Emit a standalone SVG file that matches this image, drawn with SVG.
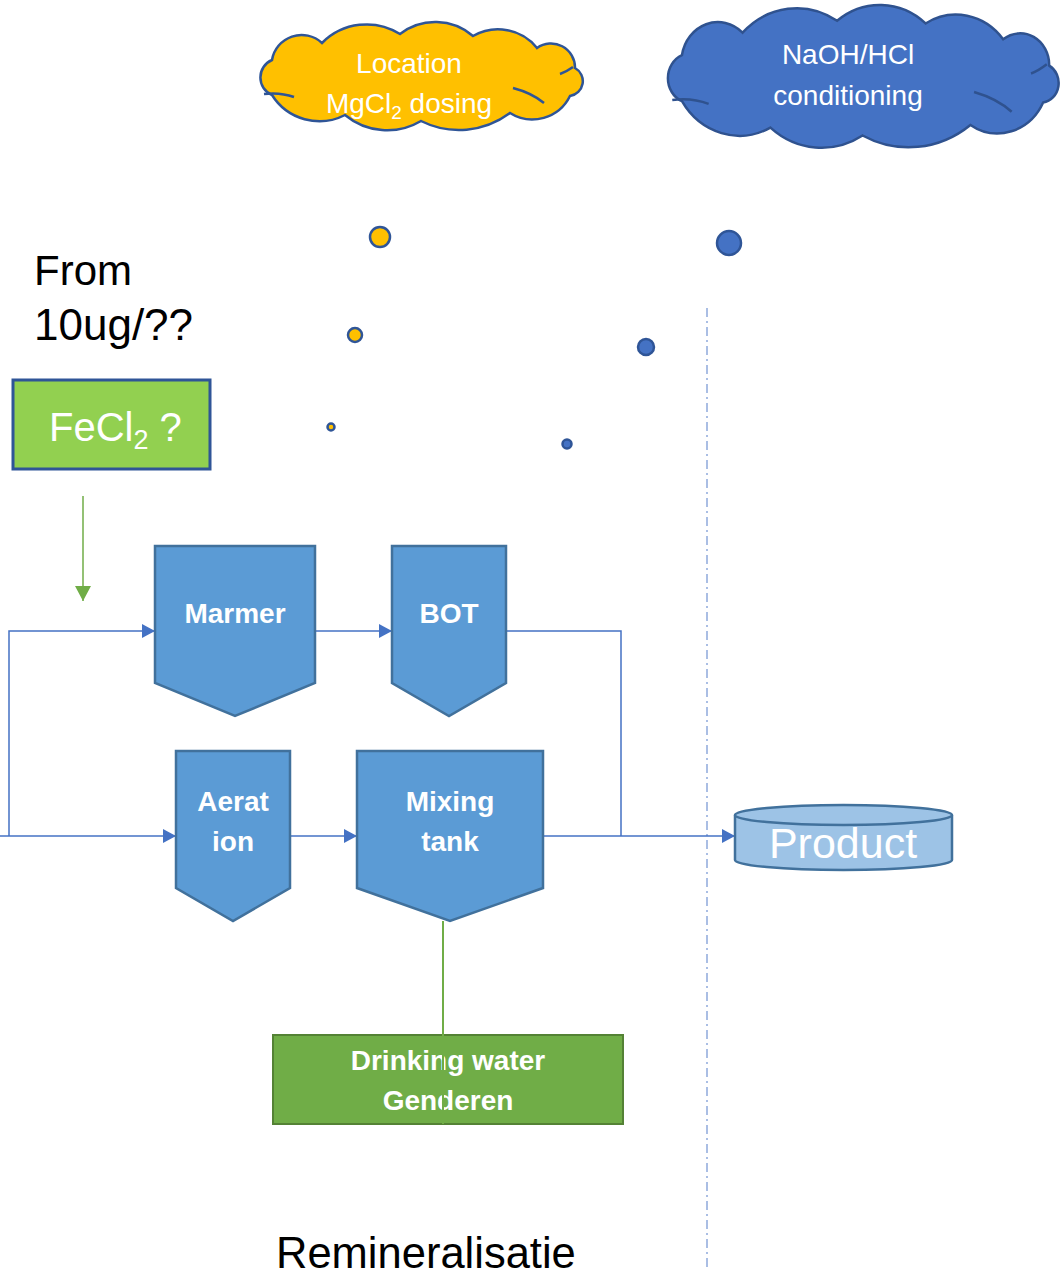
<svg xmlns="http://www.w3.org/2000/svg" xmlns:xlink="http://www.w3.org/1999/xlink" width="1063" height="1278" viewBox="0 0 1063 1278">
<style>
.proc{fill:#5B9BD5;stroke:#41719C;stroke-width:2.5}
.lbl{font-family:"Liberation Sans",Arial,sans-serif;font-weight:bold;font-size:28px;fill:#fff;text-anchor:middle}
.reg{font-family:"Liberation Sans",Arial,sans-serif;fill:#fff;text-anchor:middle}
.regs{font-family:"Liberation Sans",Arial,sans-serif;fill:#fff}
.blk{font-family:"Liberation Sans",Arial,sans-serif;fill:#000}
.conn{fill:none;stroke:#4472C4;stroke-width:1.5}
.dot{stroke:#2F5597;stroke-width:2.5}
.inner{fill:none;stroke-width:2.5}
</style>
<defs>
<marker id="arr" markerUnits="userSpaceOnUse" markerWidth="14" markerHeight="14" refX="13" refY="7" orient="auto">
<path d="M0,0 L13,7 L0,14 Z" fill="#4472C4"/>
</marker>
<marker id="garr" markerUnits="userSpaceOnUse" markerWidth="16" markerHeight="16" refX="15" refY="8" orient="auto">
<path d="M0,0 L15,8 L0,16 Z" fill="#70AD47"/>
</marker>
<path id="cloud" vector-effect="non-scaling-stroke" d="M272,95 A19,19 0 0 1 272,60 A30,30 0 0 1 322,43 A63,63 0 0 1 400,34 A58,58 0 0 1 473,36 A50,50 0 0 1 537,48 A24,24 0 0 1 575,68 A15,15 0 0 1 570,96 A42,42 0 0 1 510,113 A85,85 0 0 1 421,121 A66,66 0 0 1 345,115 A56,56 0 0 1 272,95 Z"/>
<path id="cloudin" vector-effect="non-scaling-stroke" d="M264,94 Q280,92 294,97 M573,67 Q566,72 560,74 M513,88 Q532,93 544,103"/>
</defs>

<g id="cloud-mgcl2">
<use xlink:href="#cloud" fill="#FFC000" stroke="#2F5597" stroke-width="2.5"/>
<use xlink:href="#cloudin" stroke="#2F5597" class="inner"/>
<text class="reg" font-size="28" x="409" y="73">Location</text>
<text class="reg" font-size="28" x="409" y="113">MgCl<tspan font-size="19" dy="6">2</tspan><tspan dy="-6"> dosing</tspan></text>
</g>

<g id="cloud-naoh">
<g transform="matrix(1.212,0,0,1.318,352.3,-24)">
<use xlink:href="#cloud" fill="#4472C4" stroke="#2F528F" stroke-width="2.5"/>
<use xlink:href="#cloudin" stroke="#2F528F" class="inner"/>
</g>
<text class="reg" font-size="28" x="848" y="64">NaOH/HCl</text>
<text class="reg" font-size="28" x="848" y="105">conditioning</text>
</g>

<g id="bubbles">
<circle class="dot" cx="380" cy="237" r="10" fill="#FFC000"/>
<circle class="dot" cx="355" cy="335" r="7" fill="#FFC000"/>
<circle class="dot" cx="331" cy="427" r="3.5" fill="#FFC000" stroke-width="2"/>
<circle class="dot" cx="729" cy="243" r="12" fill="#4472C4"/>
<circle class="dot" cx="646" cy="347" r="8" fill="#4472C4"/>
<circle class="dot" cx="567" cy="444" r="4.5" fill="#4472C4" stroke-width="2"/>
</g>

<g id="from-label">
<text class="blk" font-size="42" x="34" y="285">From</text>
<text class="blk" font-size="44" x="34" y="340">10ug/??</text>
</g>

<g id="fecl2">
<rect x="13" y="380" width="197" height="89" fill="#92D050" stroke="#2F5597" stroke-width="3"/>
<text class="regs" font-size="40" x="49" y="441">FeCl<tspan font-size="27" dy="8">2</tspan><tspan dy="-8"> ?</tspan></text>
</g>

<line id="fecl2-arrow" x1="83" y1="496" x2="83" y2="601" stroke="#70AD47" stroke-width="1.5" marker-end="url(#garr)"/>

<g id="divider">
<line x1="707" y1="308" x2="707" y2="1268" stroke="#8EA9DB" stroke-width="1.5" stroke-dasharray="9 4 2 4"/>
</g>

<g id="connectors">
<path class="conn" d="M9,836 L9,631 L155,631" marker-end="url(#arr)"/>
<path class="conn" d="M315,631 L392,631" marker-end="url(#arr)"/>
<path class="conn" d="M0,836 L176,836" marker-end="url(#arr)"/>
<path class="conn" d="M290,836 L357,836" marker-end="url(#arr)"/>
<path class="conn" d="M543,836 L735,836" marker-end="url(#arr)"/>
<path class="conn" d="M506,631 L621,631 L621,836"/>
</g>

<g id="marmer">
<path class="proc" d="M155,546 L315,546 L315,683 L235,716 L155,683 Z"/>
<text class="lbl" x="235" y="623">Marmer</text>
</g>
<g id="bot">
<path class="proc" d="M392,546 L506,546 L506,683 L449,716 L392,683 Z"/>
<text class="lbl" x="449" y="623">BOT</text>
</g>
<g id="aeration">
<path class="proc" d="M176,751 L290,751 L290,888 L233,921 L176,888 Z"/>
<text class="lbl" x="233" y="811">Aerat</text>
<text class="lbl" x="233" y="851">ion</text>
</g>
<g id="mixing">
<path class="proc" d="M357,751 L543,751 L543,888 L450,921 L357,888 Z"/>
<text class="lbl" x="450" y="811">Mixing</text>
<text class="lbl" x="450" y="851">tank</text>
</g>

<g id="product">
<path d="M735,815 L735,860 A108.5,10 0 0 0 952,860 L952,815" fill="#9DC3E6" stroke="#41719C" stroke-width="2.5"/>
<ellipse cx="843.5" cy="815" rx="108.5" ry="10" fill="#9DC3E6" stroke="#41719C" stroke-width="2.5"/>
<text class="reg" font-size="43" x="843" y="858">Product</text>
</g>

<g id="drinking">
<rect x="273" y="1035" width="350" height="89" fill="#70AD47" stroke="#548235" stroke-width="2"/>
<text class="lbl" font-size="27" x="448" y="1070">Drinking water</text>
<text class="lbl" font-size="27" x="448" y="1110">Genderen</text>
</g>

<line id="mixing-drinking" x1="443" y1="921" x2="443" y2="1124" stroke="#70AD47" stroke-width="2"/>

<text id="title" class="blk" font-size="43.5" x="276" y="1268">Remineralisatie</text>
</svg>
